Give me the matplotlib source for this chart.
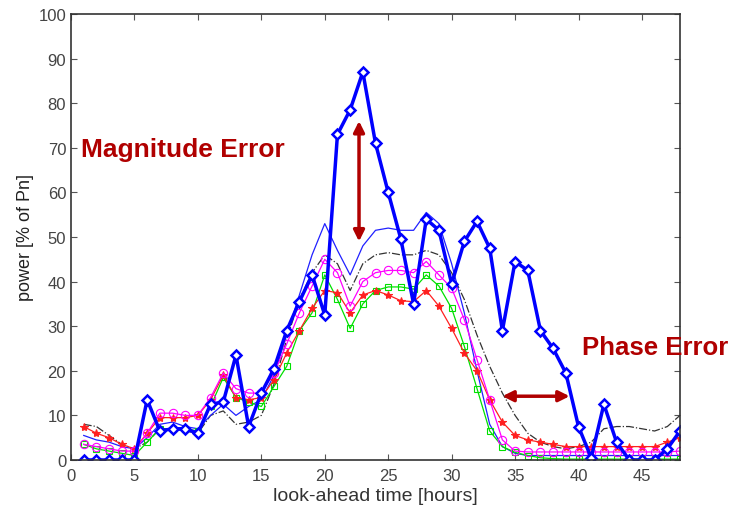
import matplotlib.pyplot as plt

plt.rcParams["font.family"] = ["Liberation Sans", "DejaVu Sans"]

hours = list(range(1, 49))

measured = [0, 0, 0, 0, 0, 13.5, 6.5, 7, 7, 6,
            12.5, 13, 23.5, 7.5, 15, 20.5, 29, 35.5, 41.5, 32.5,
            73, 78.5, 87, 71, 60, 49.5, 35, 54, 51.5, 39.5,
            49, 53.5, 47.5, 29, 44.5, 42.5, 29, 25, 19.5, 7.5,
            0.5, 12.5, 4, 0, 0, 0, 2.5, 6.5]

thin_blue = [5.5, 4.5, 4, 3, 2.5, 5, 8, 8.5, 7.5, 7,
             10, 12.5, 10, 12, 13.5, 19, 28, 37, 46, 53,
             47, 41.5, 48, 51.5, 52, 51.5, 51.5, 55.5, 53, 44,
             33, 20, 8, 3, 1.5, 1, 1, 1, 1, 1,
             1, 1, 1, 1, 1, 1, 1, 1]

dashdot = [8, 7.5, 5.5, 3.5, 2.5, 4, 7, 7, 6.5, 6,
           10, 11, 8, 8.5, 10, 17, 27, 36, 42, 46,
           44, 38, 44, 46, 46.5, 46, 46, 47, 46, 42,
           36, 28, 21, 15, 10, 6, 4, 3, 2.5, 3,
           4, 7, 7.5, 7.5, 7, 6.5, 7.5, 10]

magenta = [3.5, 3, 2.5, 2, 2, 6, 10.5, 10.5, 10, 10,
           14, 19.5, 16, 15, 15, 19.5, 26, 33, 39, 45,
           42, 34.5, 40, 42, 42.5, 42.5, 42, 44.5, 41.5, 38.5,
           31.5, 22.5, 13.5, 4.5, 2, 1.8, 1.8, 1.8, 1.8, 1.8,
           1.8, 1.8, 1.8, 1.8, 1.8, 1.8, 1.8, 2]

red = [7.5, 6, 5, 3.5, 2.5, 6, 9.5, 9.5, 9.5, 10,
       13.5, 19, 14, 13.5, 14, 18, 24, 29, 34, 38,
       37.5, 33, 37, 38, 37, 35.7, 35.5, 38, 34.5, 29.5,
       24, 20, 13.5, 8.5, 5.5, 4.5, 4, 3.5, 3, 3,
       3, 3, 3, 3, 3, 3, 4, 5]

green = [3.5, 2.5, 2, 1.5, 1, 4, 7, 7, 7, 6.5,
         12, 18.5, 14, 13, 12, 16.5, 21, 29, 33, 41.5,
         36, 29.5, 35, 38, 38.8, 38.8, 38.3, 41.5, 39, 34,
         25.5, 16, 6.5, 3, 1.7, 1, 0.5, 0.3, 0.2, 0.2,
         0.2, 0.2, 0.2, 0.2, 0.2, 0.2, 0.2, 0.2]

fig = plt.figure(figsize=(7.3, 5.1), dpi=100)
ax = fig.add_axes([0.0973, 0.0961, 0.8342, 0.8745])

ax.plot(hours, dashdot, linestyle="-.", color="#333333", linewidth=0.9)
ax.plot(hours, thin_blue, color="#2020ff", linewidth=0.9)
ax.plot(hours, green, color="#00e000", linewidth=0.9, marker="s",
        markersize=5, markerfacecolor="none", markeredgewidth=0.8)
ax.plot(hours, red, color="#ff2020", linewidth=0.9, marker="*",
        markersize=6, markeredgewidth=0.8)
ax.plot(hours, magenta, color="#ff00ff", linewidth=0.9, marker="o",
        markersize=6, markerfacecolor="none", markeredgewidth=0.8)
ax.plot(hours, measured, color="#0000ff", linewidth=2.5, marker="D",
        markersize=5.5, markerfacecolor="white", markeredgewidth=1.8)

ax.set_xlim(0, 48)
ax.set_ylim(0, 100)
ax.set_xticks(range(0, 50, 5))
ax.set_yticks(range(0, 101, 10))
ax.tick_params(direction="in", top=True, right=True, length=4,
               labelsize=12, labelcolor="#444444", color="#555555")
ax.tick_params(axis="x", pad=6)
for s in ax.spines.values():
    s.set_color("#333333")
    s.set_linewidth(1.2)

ax.set_xlabel("look-ahead time [hours]", fontsize=14, color="#333333",
              labelpad=3)
ax.set_ylabel("power [% of Pn]", fontsize=13, color="#222222", labelpad=3)

dark_red = "#b00000"
ax.text(0.8, 68.2, "Magnitude Error", fontsize=19, fontweight="bold",
        color=dark_red, va="baseline", ha="left")
ax.text(40.3, 23.8, "Phase Error", fontsize=18.5, fontweight="bold",
        color=dark_red, va="baseline", ha="left", clip_on=False)

arrow_kw = dict(arrowstyle="<|-|>", color=dark_red, lw=2.5,
                mutation_scale=16, shrinkA=0, shrinkB=0)
ax.annotate("", xy=(22.7, 76), xytext=(22.7, 49), arrowprops=arrow_kw)
ax.annotate("", xy=(34.0, 14.3), xytext=(39.3, 14.3), arrowprops=arrow_kw)

fig.savefig("out.png", dpi=100)
